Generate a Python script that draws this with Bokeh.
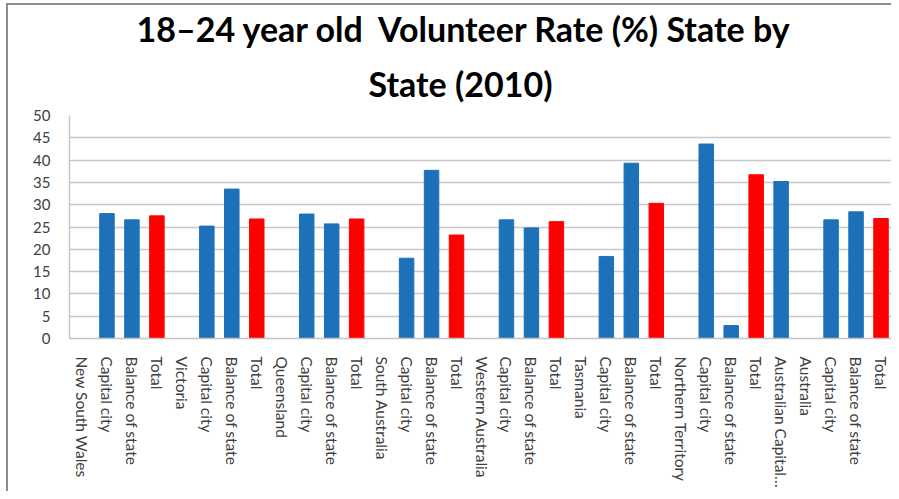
from bokeh.plotting import figure
from bokeh.models import FixedTicker, Range1d, Title, ColumnDataSource
from bokeh.embed import file_html
from bokeh.resources import INLINE

title_line1 = "18\u201324 year old \u00a0Volunteer Rate (%) State by"
title_line2 = "State (2010)"

categories = [
    "New South Wales", "Capital city", "Balance of state", "Total",
    "Victoria", "Capital city", "Balance of state", "Total",
    "Queensland", "Capital city", "Balance of state", "Total",
    "South Australia", "Capital city", "Balance of state", "Total",
    "Western Australia", "Capital city", "Balance of state", "Total",
    "Tasmania", "Capital city", "Balance of state", "Total",
    "Northern Territory", "Capital city", "Balance of state", "Total",
    "Australian Capital\u2026",
    "Australia", "Capital city", "Balance of state", "Total",
]
rates = [
    None, 28.0, 26.6, 27.5,
    None, 25.2, 33.5, 26.8,
    None, 27.9, 25.7, 26.8,
    None, 18.0, 37.7, 23.2,
    None, 26.6, 24.8, 26.2,
    None, 18.4, 39.3, 30.3,
    None, 43.6, 2.9, 36.7,
    35.2,
    None, 26.6, 28.4, 26.9,
]
y_ticks = [0, 5, 10, 15, 20, 25, 30, 35, 40, 45, 50]

BLUE = "#1c71b8"
RED = "#ff0000"

xs, ys, cols = [], [], []
for i, (c, v) in enumerate(zip(categories, rates)):
    if v is None:
        continue
    xs.append(i)
    ys.append(v)
    cols.append(RED if c == "Total" else BLUE)
src = ColumnDataSource(dict(x=xs, top=ys, color=cols))

p = figure(width=885, height=488, output_backend="svg", toolbar_location=None,
           title=None, x_range=Range1d(-0.5, len(categories) - 0.5),
           y_range=Range1d(0, 50),
           min_border_left=61, min_border_right=0, min_border_bottom=155,
           min_border_top=110)
p.styles = {"margin-left": "6px", "margin-top": "3px",
            "border-top": "2px solid #8c8c8c", "border-left": "2px solid #8c8c8c"}
p.outline_line_color = None
p.background_fill_color = "white"
p.border_fill_color = "white"

p.vbar(x="x", top="top", width=0.58, bottom=0, color="color", source=src)

# axes
p.xaxis.ticker = FixedTicker(ticks=list(range(len(categories))))
p.xaxis.major_label_overrides = {i: c for i, c in enumerate(categories)}
p.xaxis.major_label_orientation = "vertical"
p.yaxis.ticker = FixedTicker(ticks=y_ticks)
for ax in (p.xaxis[0], p.yaxis[0]):
    ax.axis_line_color = "#c4c4c4"
    ax.axis_line_width = 1.5
    ax.major_tick_line_color = None
    ax.minor_tick_line_color = None
    ax.major_tick_out = 0
    ax.major_tick_in = 0
    ax.major_label_text_font = "Lato"
    ax.major_label_text_color = "#404040"
p.xaxis.major_label_text_font_size = "15.5px"
p.xaxis.major_label_standoff = 18
p.yaxis.major_label_text_font_size = "15px"
p.yaxis.major_label_standoff = 19

p.xgrid.grid_line_color = None
p.ygrid.ticker = FixedTicker(ticks=y_ticks)
p.ygrid.grid_line_color = "#c8c8c8"
p.ygrid.grid_line_width = 1.5

t2 = Title(text=title_line2, align="left", offset=299, text_font="Lato",
           text_font_size="34px", text_font_style="bold", text_color="#000000",
           standoff=24)
t1 = Title(text=title_line1, align="left", offset=67, text_font="Lato",
           text_font_size="34px", text_font_style="bold", text_color="#000000",
           standoff=0)
p.add_layout(t2, "above")
p.add_layout(t1, "above")

open("out.html", "w").write(file_html(p, INLINE))
